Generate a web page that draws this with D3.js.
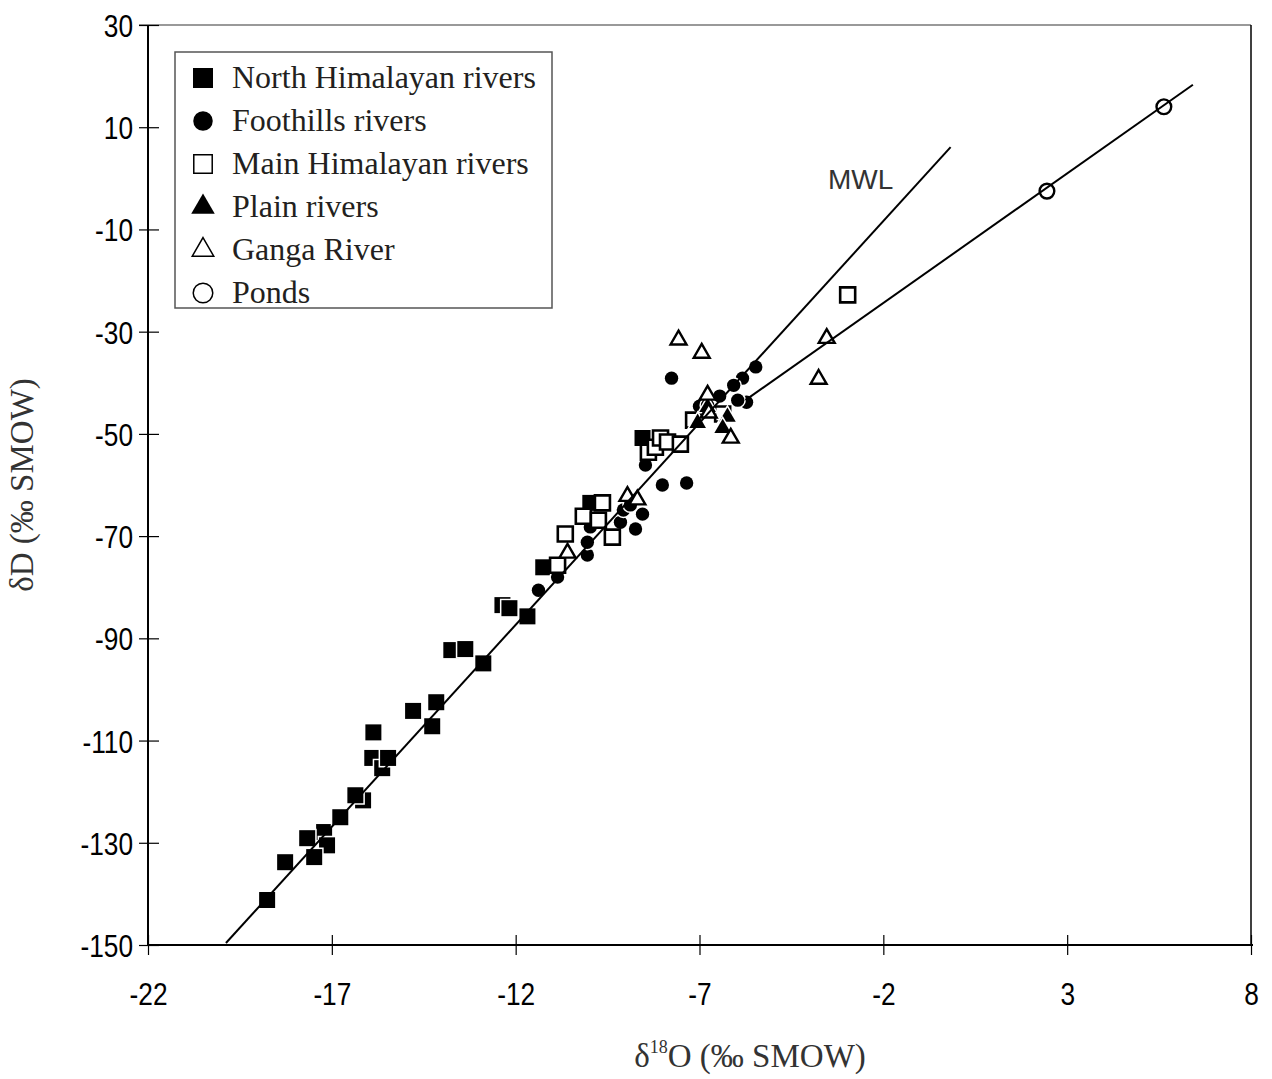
<!DOCTYPE html>
<html>
<head>
<meta charset="utf-8">
<script src="https://cdn.jsdelivr.net/npm/d3@7"></script>
<style>
  body { margin: 0; background: #fff; }
  svg { display: block; }
  .tick-label { font-family: "Liberation Sans", Arial, sans-serif; font-size: 32px; fill: #000; }
  .legend-text { font-family: "Liberation Serif", "Times New Roman", serif; font-size: 32px; fill: #231f20; }
  .axis-title { font-family: "Liberation Serif", "Times New Roman", serif; font-size: 33px; fill: #333; }
</style>
</head>
<body>
<div id="chart"></div>
<script>
// d18O, dD pairs
var northHimalayan = [
  [-18.76, -141.2], [-18.27, -133.8], [-17.21, -127.9], [-17.13, -130.5],
  [-17.67, -129.1], [-17.48, -132.8], [-16.77, -125.0], [-16.15, -121.7],
  [-16.36, -120.7], [-15.90, -113.4], [-15.63, -115.4], [-15.47, -113.4],
  [-15.87, -108.4], [-14.79, -104.2], [-14.16, -102.5], [-14.27, -107.2],
  [-13.75, -92.3], [-13.37, -92.1], [-12.88, -94.9], [-12.36, -83.5],
  [-12.17, -84.1], [-11.68, -85.7], [-11.25, -76.1], [-9.97, -63.5],
  [-8.55, -50.8]
];
var foothills = [
  [-11.38, -80.6], [-10.86, -78.0], [-10.05, -73.7], [-10.05, -71.2],
  [-9.97, -68.2], [-9.15, -67.3], [-8.74, -68.6], [-8.55, -65.7],
  [-9.07, -64.9], [-8.88, -63.9], [-8.01, -60.0], [-7.35, -59.6],
  [-8.47, -56.1], [-7.76, -39.1], [-5.47, -36.9], [-5.83, -39.1],
  [-6.07, -40.5], [-6.45, -42.6], [-5.72, -43.8], [-5.96, -43.4],
  [-7.00, -44.6], [-6.78, -44.4]
];
var mainHimalayan = [
  [-10.86, -75.7], [-10.65, -69.6], [-10.16, -66.1], [-9.75, -66.9],
  [-9.64, -63.5], [-9.37, -70.2], [-8.39, -53.6], [-8.20, -52.6],
  [-8.06, -50.8], [-7.87, -51.6], [-7.52, -52.0], [-7.16, -47.3],
  [-6.37, -46.1], [-2.97, -22.8]
];
var plainRivers = [
  [-7.05, -47.9], [-6.24, -46.7], [-6.37, -48.9], [-6.78, -44.8]
];
var gangaRiver = [
  [-7.57, -31.6], [-6.94, -34.2], [-3.54, -31.3], [-3.76, -39.3],
  [-6.78, -42.4], [-6.75, -45.9], [-6.15, -50.8], [-8.96, -62.2],
  [-8.69, -62.9], [-10.59, -73.3]
];
var ponds = [[2.45, -2.5], [5.63, 14.0]];

// fitted lines (end points)
var mwlLine = [[-19.88, -149.6], [-0.17, 6.1]];
var evapLine = [[-5.75, -43.4], [6.42, 18.3]];

var xTicks = [-22, -17, -12, -7, -2, 3, 8];
var yTicks = [30, 10, -10, -30, -50, -70, -90, -110, -130, -150];

var seriesNames = ["North Himalayan rivers", "Foothills rivers", "Main Himalayan rivers",
                   "Plain rivers", "Ganga River", "Ponds"];

var width = 1272, height = 1079;

var x = d3.scaleLinear().domain([-22, 8]).range([148, 1251]);
var y = d3.scaleLinear().domain([-150, 30]).range([945, 25]);

var svg = d3.select("#chart").append("svg")
    .attr("width", width)
    .attr("height", height);

// marker styles
var styles = [
  {type: d3.symbolSquare, size: 256, fill: "#000", stroke: "#fff", sw: 3},
  {type: d3.symbolCircle, size: 140, fill: "#000", stroke: "#fff", sw: 3},
  {type: d3.symbolSquare, size: 225, fill: "#fff", stroke: "#000", sw: 2.6},
  {type: d3.symbolTriangle, size: 120, fill: "#000", stroke: "#fff", sw: 3},
  {type: d3.symbolTriangle, size: 110, fill: "#fff", stroke: "#000", sw: 2.4},
  {type: d3.symbolCircle, size: 170, fill: "#fff", stroke: "#000", sw: 2.4}
];
var allSeries = [northHimalayan, foothills, mainHimalayan, plainRivers, gangaRiver, ponds];

// frame
svg.append("line").attr("x1", 139).attr("x2", x(8)).attr("y1", y(30)).attr("y2", y(30))
    .attr("stroke", "#777").attr("stroke-width", 1.5);
svg.append("line").attr("x1", x(8)).attr("x2", x(8)).attr("y1", y(30)).attr("y2", y(-150))
    .attr("stroke", "#000").attr("stroke-width", 1.5);

// squeeze tick labels to look like a narrow face
function narrow(sel) {
  sel.each(function() {
    var w = this.getComputedTextLength();
    d3.select(this).attr("textLength", w * 0.82).attr("lengthAdjust", "spacingAndGlyphs");
  });
}

// axes
var xAxis = svg.append("g")
    .attr("transform", "translate(0," + y(-150) + ")")
    .call(d3.axisBottom(x).tickValues(xTicks).tickSize(10).tickFormat(function(d) { return String(d); }));
xAxis.attr("font-size", null).attr("font-family", null);
xAxis.select(".domain").attr("stroke-width", 2).attr("d", "M" + (x(-22) - 1) + ",0H" + (x(8) + 2));
xAxis.selectAll(".tick line").attr("y1", -10).attr("y2", 10).attr("stroke-width", 1.2);
xAxis.selectAll(".tick text").attr("class", "tick-label").attr("y", 60).attr("dy", 0).call(narrow);

var yAxis = svg.append("g")
    .attr("transform", "translate(" + x(-22) + ",0)")
    .call(d3.axisLeft(y).tickValues(yTicks).tickSize(9).tickFormat(function(d) { return String(d); }));
yAxis.attr("font-size", null).attr("font-family", null);
yAxis.select(".domain").attr("stroke-width", 2).attr("d", "M0," + y(30) + "V" + (y(-150) + 1));
yAxis.selectAll(".tick line").attr("x1", -9).attr("x2", 11).attr("stroke-width", 1.2);
yAxis.selectAll(".tick text").attr("class", "tick-label").attr("x", -15).attr("dy", "0.36em").call(narrow);

// points
allSeries.forEach(function(data, i) {
  var s = styles[i];
  svg.append("g").selectAll("path")
      .data(data)
    .enter().append("path")
      .attr("transform", function(d) { return "translate(" + x(d[0]) + "," + y(d[1]) + ")"; })
      .attr("d", d3.symbol().type(s.type).size(s.size))
      .attr("fill", s.fill)
      .attr("stroke", s.stroke)
      .attr("stroke-width", s.sw)
      .attr("paint-order", s.fill === "#000" ? "stroke" : "normal");
});

// lines on top
var line = d3.line().x(function(d) { return x(d[0]); }).y(function(d) { return y(d[1]); });
[mwlLine, evapLine].forEach(function(l) {
  svg.append("path").attr("d", line(l)).attr("fill", "none")
      .attr("stroke", "#000").attr("stroke-width", 2);
});

svg.append("text")
    .attr("x", 828).attr("y", 189)
    .attr("font-family", "'Liberation Sans', Arial, sans-serif")
    .attr("font-size", 28).attr("fill", "#333")
    .text("MWL");

// legend
var legend = svg.append("g");
legend.append("rect")
    .attr("x", 175).attr("y", 52).attr("width", 377).attr("height", 256)
    .attr("fill", "#fff").attr("stroke", "#555").attr("stroke-width", 1.5);
var legendSizes = [400, 300, 340, 240, 200, 300];
seriesNames.forEach(function(name, i) {
  var s = styles[i];
  var cy = 78 + i * 43;
  legend.append("path")
      .attr("transform", "translate(203," + cy + ")")
      .attr("d", d3.symbol().type(s.type).size(legendSizes[i]))
      .attr("fill", s.fill)
      .attr("stroke", s.fill === "#000" ? "none" : "#000")
      .attr("stroke-width", 1.5);
  legend.append("text")
      .attr("class", "legend-text")
      .attr("x", 232).attr("y", cy + 10)
      .text(name);
});

// axis titles
var xt = svg.append("text").attr("class", "axis-title")
    .attr("x", 750).attr("y", 1067).attr("text-anchor", "middle");
xt.append("tspan").text("δ");
xt.append("tspan").attr("font-size", 18).attr("dy", -14).text("18");
xt.append("tspan").attr("dy", 14).text("O (‰ SMOW)");

svg.append("text").attr("class", "axis-title")
    .attr("font-size", 34)
    .attr("transform", "translate(33,485) rotate(-90)")
    .attr("text-anchor", "middle")
    .text("δD (‰ SMOW)");
</script>
</body>
</html>
